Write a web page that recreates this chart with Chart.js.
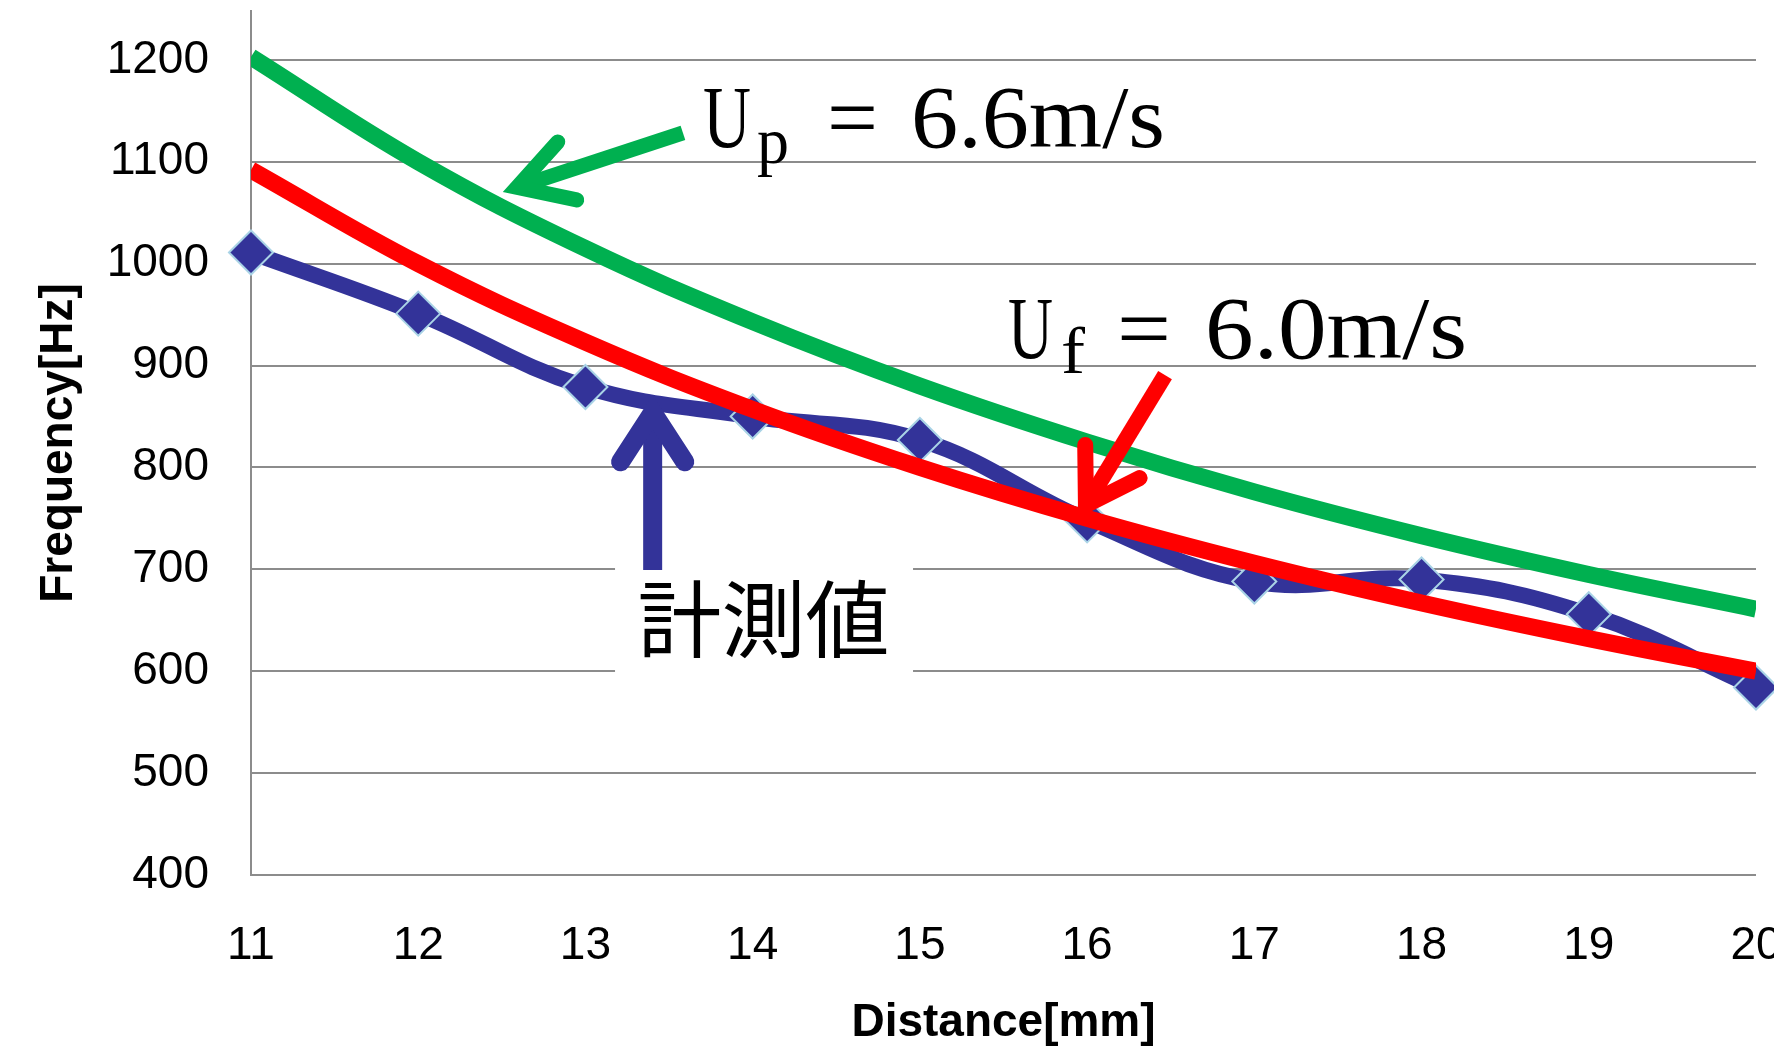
<!DOCTYPE html>
<html>
<head>
<meta charset="utf-8">
<script src="https://cdn.jsdelivr.net/npm/chart.js@4/dist/chart.umd.min.js"></script>
<style>
html,body{margin:0;padding:0;background:#fff;overflow:hidden;}
#wrap{width:1774px;height:1048px;position:relative;}
</style>
</head>
<body>
<div id="wrap"><canvas id="c"></canvas></div>
<script>
// ---- data ----
const distances = [11, 12, 13, 14, 15, 16, 17, 18, 19, 20];          // Distance[mm]
const measured  = [1011, 951, 879, 850, 827, 748, 688, 690, 656, 584]; // 計測値
const curveUp   = [1203, 1100, 1015, 943, 880, 825, 776, 733, 695, 661]; // Up = 6.6m/s
const curveUf   = [1092, 1000, 923, 857, 800, 750, 706, 667, 632, 600];  // Uf = 6.0m/s
const yTickValues = [400, 500, 600, 700, 800, 900, 1000, 1100, 1200];
const xTickValues = [11, 12, 13, 14, 15, 16, 17, 18, 19, 20];
const yRange = [400, 1248];
const xRange = [11, 20];

// ---- plot area box (pixels) ----
const plotBox = {left: 251, top: 11, right: 1756, bottom: 875};

// ---- annotation anchors (data coordinates) ----
const labelBox   = {x0: 13.177, x1: 14.959, y0: 591.4, y1: 703.3};
const labelText  = {text: '計測値', x: 14.065, y: 650.8};
const arrowSpecs = [
  {tail: [13.583, 1128.3], tip: [12.591, 1074.9], color: '#00B050', width: 15, wing: 61, angle: 30},
  {tail: [16.466, 890.7],  tip: [15.993, 763.1],  color: '#FF0000', width: 16, wing: 60, angle: 32},
  {tail: [13.402, 699.3],  tip: [13.402, 854.1],  color: '#333399', width: 19, wing: 59, angle: 33}
];
const formulaLabels = [
  {x: 13.703, y: 1114.5, pieces: [
    {t: 'U', dx: 0, dy: 0, size: 88, w: 48},
    {t: 'p', dx: 54, dy: 15.5, size: 66, w: 32},
    {t: '=', dx: 124, dy: 0, size: 88, w: 51},
    {t: '6.6m/s', dx: 208, dy: 0, size: 88, w: 254}
  ]},
  {x: 15.527, y: 907.4, pieces: [
    {t: 'U', dx: 0, dy: 0, size: 88, w: 45},
    {t: 'f', dx: 53, dy: 15, size: 66, w: 24},
    {t: '=', dx: 109, dy: 0, size: 88, w: 54},
    {t: '6.0m/s', dx: 197, dy: 0, size: 88, w: 262}
  ]}
];

const GRID = '#8c8c8c';
const SANS = "'Liberation Sans', Arial, sans-serif";
const SERIF = "'Liberation Serif', 'Times New Roman', serif";

function drawArrow(ctx, x0, y0, x1, y1, color, width, wing, angleDeg) {
  ctx.save();
  ctx.strokeStyle = color;
  ctx.lineWidth = width;
  ctx.lineCap = 'butt';
  ctx.beginPath();
  ctx.moveTo(x0, y0);
  ctx.lineTo(x1, y1);
  ctx.stroke();
  const ang = Math.atan2(y0 - y1, x0 - x1);
  const a = angleDeg * Math.PI / 180;
  ctx.lineCap = 'round';
  ctx.lineJoin = 'miter';
  ctx.miterLimit = 10;
  ctx.beginPath();
  ctx.moveTo(x1 + wing * Math.cos(ang - a), y1 + wing * Math.sin(ang - a));
  ctx.lineTo(x1, y1);
  ctx.lineTo(x1 + wing * Math.cos(ang + a), y1 + wing * Math.sin(ang + a));
  ctx.stroke();
  ctx.restore();
}

function drawPiece(ctx, text, x, baseline, size, targetW) {
  ctx.save();
  ctx.font = size + 'px ' + SERIF;
  const w = ctx.measureText(text).width;
  ctx.translate(x, baseline);
  ctx.scale(targetW / w, 1);
  ctx.fillStyle = '#000';
  ctx.textAlign = 'left';
  ctx.textBaseline = 'alphabetic';
  ctx.fillText(text, 0, 0);
  ctx.restore();
}

const fixedAreaPlugin = {
  id: 'fixedArea',
  afterLayout(chart) {
    const {x, y} = chart.scales;
    const b = plotBox;
    chart.chartArea = {left: b.left, top: b.top, right: b.right, bottom: b.bottom,
                       width: b.right - b.left, height: b.bottom - b.top};
    x.left = b.left; x.right = b.right; x.width = b.right - b.left;
    x.top = b.bottom; x.bottom = chart.height; x.height = chart.height - b.bottom;
    y.left = 0; y.right = b.left; y.width = b.left;
    y.top = b.top; y.bottom = b.bottom; y.height = b.bottom - b.top;
    x.configure(); y.configure();
  }
};

const annotationPlugin = {
  id: 'annotations',
  beforeDatasetsDraw(chart) {
    const {ctx, scales: {x, y}} = chart;
    const l = x.getPixelForValue(labelBox.x0), r = x.getPixelForValue(labelBox.x1);
    const t = y.getPixelForValue(labelBox.y1), b = y.getPixelForValue(labelBox.y0);
    ctx.save();
    ctx.fillStyle = '#ffffff';
    ctx.fillRect(l, t, r - l, b - t);
    ctx.restore();
  },
  afterDatasetsDraw(chart) {
    const {ctx, scales: {x, y}} = chart;
    arrowSpecs.forEach(s => {
      drawArrow(ctx,
        x.getPixelForValue(s.tail[0]), y.getPixelForValue(s.tail[1]),
        x.getPixelForValue(s.tip[0]), y.getPixelForValue(s.tip[1]),
        s.color, s.width, s.wing, s.angle);
    });
    formulaLabels.forEach(f => {
      const bx = x.getPixelForValue(f.x), by = y.getPixelForValue(f.y);
      f.pieces.forEach(p => drawPiece(ctx, p.t, bx + p.dx, by + p.dy, p.size, p.w));
    });
    ctx.save();
    ctx.font = "84px 'Noto Sans CJK JP', sans-serif";
    ctx.fillStyle = '#000';
    ctx.textAlign = 'center';
    ctx.textBaseline = 'middle';
    ctx.fillText(labelText.text, x.getPixelForValue(labelText.x), y.getPixelForValue(labelText.y));
    ctx.restore();
  }
};

const toPts = arr => distances.map((d, i) => ({x: d, y: arr[i]}));

new Chart(document.getElementById('c'), {
  type: 'line',
  data: {
    datasets: [
      {
        label: 'Uf = 6.0m/s', data: toPts(curveUf), order: 0,
        borderColor: '#FF0000', borderWidth: 17, pointRadius: 0,
        tension: 0.4, fill: false, borderCapStyle: 'butt'
      },
      {
        label: 'Up = 6.6m/s', data: toPts(curveUp), order: 1,
        borderColor: '#00B050', borderWidth: 17, pointRadius: 0,
        tension: 0.4, fill: false, borderCapStyle: 'butt'
      },
      {
        label: '計測値', data: toPts(measured), order: 2,
        borderColor: '#333399', borderWidth: 16, tension: 0.4, fill: false,
        pointStyle: 'rectRot', pointRadius: 22, pointBackgroundColor: '#333399',
        pointBorderColor: '#a9d3e6', pointBorderWidth: 2, clip: false
      }
    ]
  },
  options: {
    responsive: true,
    maintainAspectRatio: false,
    animation: false,
    events: [],
    layout: {padding: 0},
    plugins: {legend: {display: false}, tooltip: {enabled: false}},
    scales: {
      x: {
        type: 'linear', min: xRange[0], max: xRange[1],
        afterBuildTicks: s => { s.ticks = xTickValues.map(v => ({value: v})); },
        grid: {display: false, drawTicks: false},
        border: {display: false},
        ticks: {font: {family: SANS, size: 46}, color: '#000', padding: 44, maxRotation: 0, autoSkip: false,
                callback: v => String(v)},
        title: {display: true, text: 'Distance[mm]', color: '#000',
                font: {family: SANS, size: 46, weight: 'bold'}, padding: {top: 0, bottom: -2.5}}
      },
      y: {
        type: 'linear', min: yRange[0], max: yRange[1],
        afterBuildTicks: s => { s.ticks = yTickValues.map(v => ({value: v})); },
        grid: {color: GRID, lineWidth: 2, drawTicks: false},
        border: {display: true, color: GRID, width: 2},
        ticks: {font: {family: SANS, size: 46}, color: '#000', padding: 42,
                callback: v => String(v)},
        title: {display: true, text: 'Frequency[Hz]', color: '#000',
                font: {family: SANS, size: 46, weight: 'bold'}, padding: {top: 32, bottom: 0}}
      }
    }
  },
  plugins: [fixedAreaPlugin, annotationPlugin]
});
</script>
</body>
</html>
